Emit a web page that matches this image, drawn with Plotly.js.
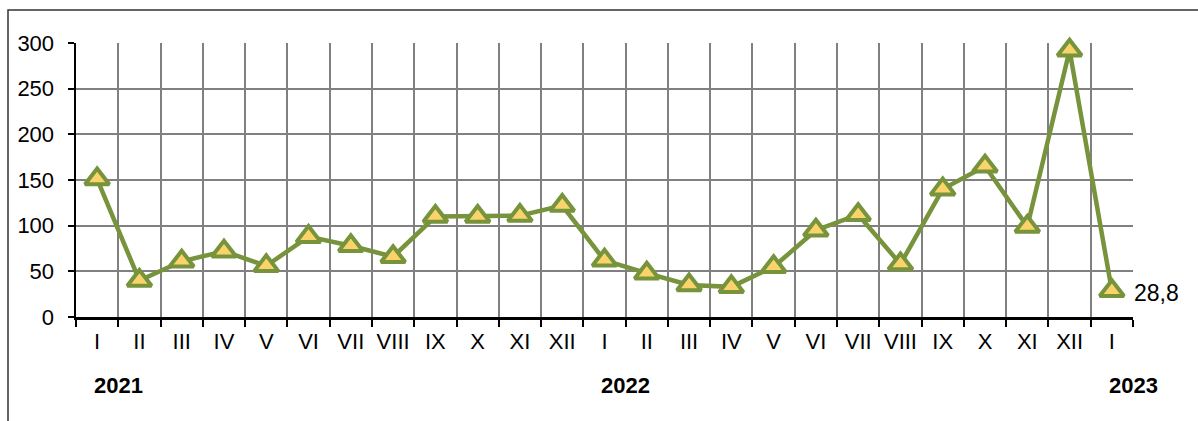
<!DOCTYPE html>
<html>
<head>
<meta charset="utf-8">
<script src="https://cdn.plot.ly/plotly-3.0.1.min.js"></script>
<style>
html,body{margin:0;padding:0;background:#fff;}
#chart{width:1198px;height:421px;}
</style>
</head>
<body>
<div id="chart"></div>
<script>
const months = ["I","II","III","IV","V","VI","VII","VIII","IX","X","XI","XII",
                "I","II","III","IV","V","VI","VII","VIII","IX","X","XI","XII","I"];
const values = [151,40,61,72,56,88,78,66,110,110,111,122,
                62,48,35,33,55,95,112,58,140,165,99,292,28.8];
const years = ["2021","2022","2023"];
const yearIndex = [0,12,24];
const lastLabel = "28,8";

const idx = months.map((m,i)=>i);
const bounds = months.map((m,i)=>i-0.5).concat([months.length-0.5]);

const green = "#77933C";
const fontFam = "Liberation Sans, Arial, sans-serif";

const trace = {
  x: idx, y: values, type: "scatter", mode: "lines+markers",
  line: {color: green, width: 4.5},
  marker: {symbol: "triangle-up", size: 21, color: "#FAD46A", line: {color: green, width: 4}},
  hoverinfo: "skip", cliponaxis: false
};

const annotations = years.map((y,k)=>({
  x: yearIndex[k]+0.5, y: 0, xref: "x", yref: "y", yshift: -68,
  text: "<b>"+y+"</b>", showarrow: false,
  font: {family: fontFam, size: 22, color: "#000"}
}));
annotations.push({
  x: idx[idx.length-1], y: values[values.length-1], xref: "x", yref: "y",
  text: lastLabel, showarrow: false, xanchor: "left", xshift: 20, yshift: -2,
  font: {family: fontFam, size: 23, color: "#000"}
});

const layout = {
  width: 1198, height: 421,
  margin: {l: 76, r: 65, t: 43, b: 104},
  paper_bgcolor: "#fff", plot_bgcolor: "#fff",
  showlegend: false,
  font: {family: fontFam, size: 22, color: "#000"},
  xaxis: {
    range: [-0.5, months.length-0.5], tickmode: "array", tickvals: idx, ticktext: months,
    ticks: "", showgrid: false, zeroline: false,
    showline: true, linecolor: "#000", linewidth: 2.5,
    tickfont: {family: fontFam, size: 22, color: "#000"}, ticklabelstandoff: 3,
    minor: {tickmode: "array", tickvals: bounds, ticks: "outside", ticklen: 7, tickwidth: 2, tickcolor: "#000",
            showgrid: true, gridcolor: "#808080", gridwidth: 2},
    fixedrange: true
  },
  yaxis: {
    range: [0, 300], tickmode: "linear", tick0: 0, dtick: 50,
    ticks: "outside", ticklen: 6, tickwidth: 2, tickcolor: "#000",
    showgrid: true, gridcolor: "#808080", gridwidth: 2, zeroline: false,
    showline: true, linecolor: "#000", linewidth: 2.5,
    tickfont: {family: fontFam, size: 22, color: "#000"}, ticklabelstandoff: 9,
    fixedrange: true
  },
  annotations: annotations,
  shapes: [{
    type: "rect", xref: "paper", yref: "paper",
    x0: (8-76)/1057, x1: 1.3, y0: -0.6, y1: 1 + (43-10)/274,
    line: {color: "#333", width: 1.5}, fillcolor: "rgba(0,0,0,0)", layer: "below"
  }]
};

Plotly.newPlot("chart", [trace], layout, {staticPlot: true, displayModeBar: false});
</script>
</body>
</html>
